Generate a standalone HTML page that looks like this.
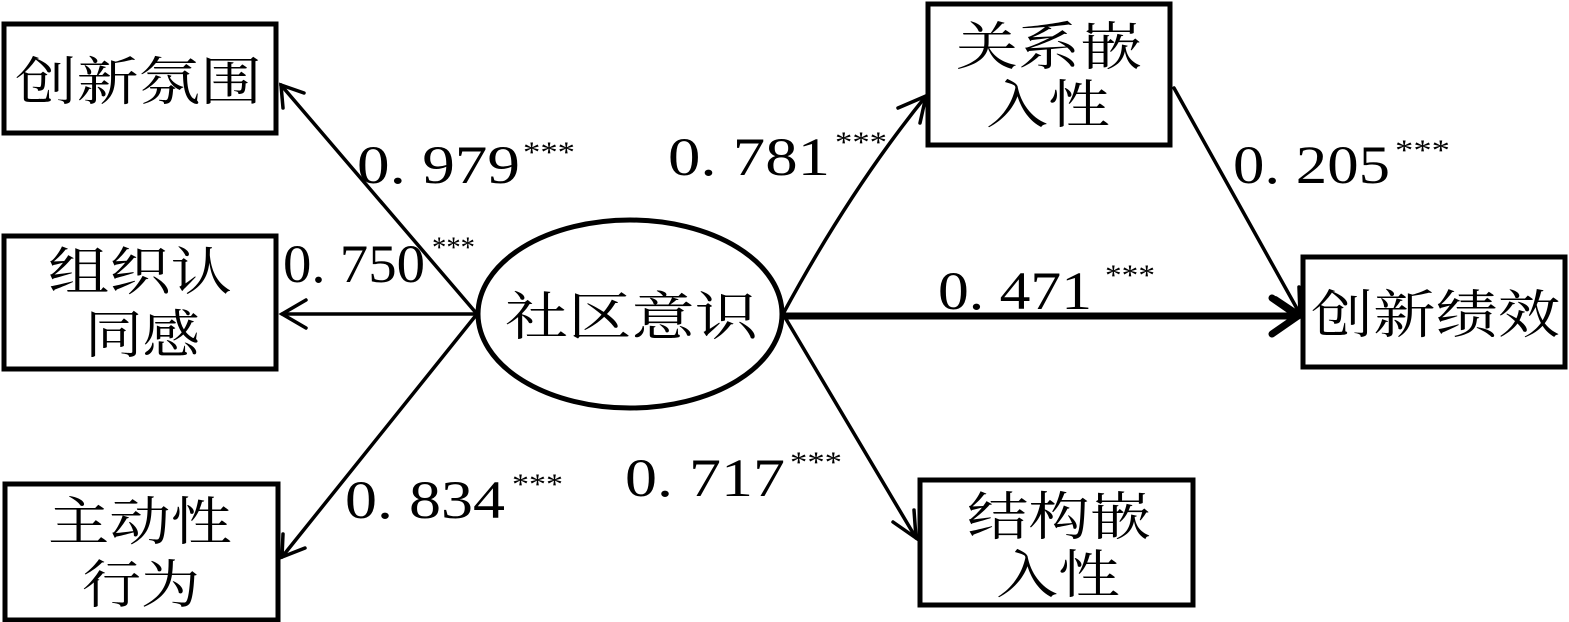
<!DOCTYPE html>
<html><head><meta charset="utf-8"><style>html,body{margin:0;padding:0;background:#fff}svg{display:block}
.cjk{font-family:"Noto Serif CJK SC","Noto Serif CJK JP",serif;font-size:52px}
.num{font-family:"Liberation Serif","DejaVu Serif",serif;font-size:54px}
.st{font-family:"Liberation Serif","DejaVu Serif",serif;font-size:30px}
</style></head>
<body>
<svg width="1569" height="622" viewBox="0 0 1569 622" xmlns="http://www.w3.org/2000/svg">
<g fill="none" stroke="#000" stroke-width="5">
<rect x="4" y="24" width="272" height="109"/>
<rect x="4" y="236" width="272" height="133"/>
<rect x="5" y="484" width="273" height="136"/>
<rect x="928" y="4" width="242" height="141"/>
<rect x="1303" y="257" width="262" height="110"/>
<rect x="920" y="480" width="273" height="125"/>
<ellipse cx="630" cy="314" rx="152" ry="94"/>
</g>
<g fill="none" stroke="#000" stroke-width="3.5" stroke-linecap="round">
<line x1="477" y1="314" x2="281" y2="85"/><polyline points="283,108 281,85 304,93"/>
<line x1="477" y1="314" x2="282" y2="314"/><polyline points="306,300 282,314 306,328"/>
<line x1="477" y1="314" x2="282" y2="557"/><polyline points="283,534 282,557 305,548"/>
<path d="M783,314 Q850,190 926,96"/><polyline points="898,108 926,96 920,123"/>
<line x1="783" y1="314" x2="916" y2="538"/><polyline points="893,522 916,538 914,510"/>
<line x1="1174" y1="88" x2="1300" y2="314"/><polyline points="1276,298 1300,314 1299,287"/>
</g>
<g fill="none" stroke="#000" stroke-width="7" stroke-linecap="round">
<line x1="783" y1="316" x2="1298" y2="316"/><polyline points="1272,298 1298,316 1272,334"/>
</g>
<g fill="#000">
<text class="cjk" x="15" y="100" textLength="247" lengthAdjust="spacingAndGlyphs">创新氛围</text>
<text class="cjk" x="48" y="290" textLength="184" lengthAdjust="spacingAndGlyphs">组织认</text>
<text class="cjk" x="85" y="353" textLength="115" lengthAdjust="spacingAndGlyphs">同感</text>
<text class="cjk" x="48" y="540" textLength="184" lengthAdjust="spacingAndGlyphs">主动性</text>
<text class="cjk" x="82" y="603" textLength="118" lengthAdjust="spacingAndGlyphs">行为</text>
<text class="cjk" x="505" y="335" textLength="253" lengthAdjust="spacingAndGlyphs">社区意识</text>
<text class="cjk" x="956" y="65" textLength="186" lengthAdjust="spacingAndGlyphs">关系嵌</text>
<text class="cjk" x="986" y="123" textLength="124" lengthAdjust="spacingAndGlyphs">入性</text>
<text class="cjk" x="1311" y="333" textLength="249" lengthAdjust="spacingAndGlyphs">创新绩效</text>
<text class="cjk" x="967" y="535" textLength="184" lengthAdjust="spacingAndGlyphs">结构嵌</text>
<text class="cjk" x="996" y="593" textLength="124" lengthAdjust="spacingAndGlyphs">入性</text>
</g>
<g fill="#000">
<text class="num" x="357" y="183" textLength="163" lengthAdjust="spacingAndGlyphs">0. 979</text>
<text class="num" x="283" y="282" textLength="142" lengthAdjust="spacingAndGlyphs">0. 750</text>
<text class="num" x="345" y="518" textLength="160" lengthAdjust="spacingAndGlyphs">0. 834</text>
<text class="num" x="625" y="496" textLength="160" lengthAdjust="spacingAndGlyphs">0. 717</text>
<text class="num" x="668" y="175" textLength="162" lengthAdjust="spacingAndGlyphs">0. 781</text>
<text class="num" x="1233" y="183" textLength="157" lengthAdjust="spacingAndGlyphs">0. 205</text>
<text class="num" x="938" y="309" textLength="154" lengthAdjust="spacingAndGlyphs">0. 471</text>
</g>
<g fill="#000">
<text class="st" x="523" y="162" textLength="52" lengthAdjust="spacingAndGlyphs">***</text>
<text class="st" x="432" y="257" textLength="43" lengthAdjust="spacingAndGlyphs">***</text>
<text class="st" x="512" y="494" textLength="51" lengthAdjust="spacingAndGlyphs">***</text>
<text class="st" x="790" y="472" textLength="52" lengthAdjust="spacingAndGlyphs">***</text>
<text class="st" x="835" y="152" textLength="52" lengthAdjust="spacingAndGlyphs">***</text>
<text class="st" x="1395" y="160" textLength="55" lengthAdjust="spacingAndGlyphs">***</text>
<text class="st" x="1105" y="285" textLength="50" lengthAdjust="spacingAndGlyphs">***</text>
</g>
</svg>
</body></html>
